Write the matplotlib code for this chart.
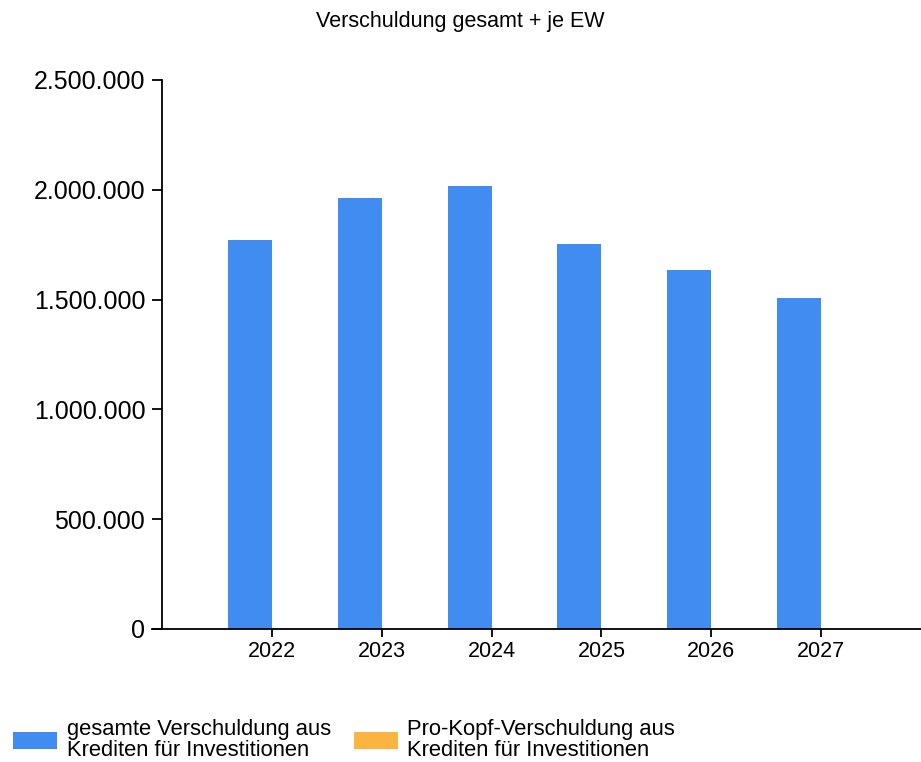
import matplotlib
matplotlib.use("Agg")
import matplotlib.pyplot as plt
from matplotlib.ticker import FuncFormatter
import numpy as np

plt.rcParams['font.family'] = ['Liberation Sans', 'DejaVu Sans']

years = ["2022", "2023", "2024", "2025", "2026", "2027"]
gesamt = [1771000, 1962000, 2017000, 1753000, 1635000, 1508000]
pro_kopf = [880, 975, 1000, 870, 810, 750]  # per capita values, too small to see

blue = '#418CF0'
orange = '#FCB441'


def de_fmt(v, pos):
    return f"{v:,.0f}".replace(",", ".")


fig = plt.figure(figsize=(9.21, 7.62), dpi=100)
ax = fig.add_axes([152 / 921, 133 / 762, 769 / 921, 549 / 762])

x = np.arange(len(years))
w = 0.4
ax.bar(x - w / 2, gesamt, w, color=blue, label="gesamte Verschuldung aus\nKrediten für Investitionen")
ax.bar(x + w / 2, pro_kopf, w, color=orange, label="Pro-Kopf-Verschuldung aus\nKrediten für Investitionen")

ax.set_xlim(-1.093, 5.911)
ax.set_ylim(0, 2500000)
ax.set_yticks(np.arange(0, 2500001, 500000))
ax.yaxis.set_major_formatter(FuncFormatter(de_fmt))
ax.set_xticks(x)
ax.set_xticklabels(years)

for s in ['top', 'right']:
    ax.spines[s].set_visible(False)
ax.spines['left'].set_position(('data', -1.0))
for s in ['left', 'bottom']:
    ax.spines[s].set_linewidth(1.3)
    ax.spines[s].set_color('black')

ax.tick_params(axis='y', length=7.2, width=1.3, pad=5, labelsize=18)
ax.tick_params(axis='x', length=5.8, width=1.3, pad=3, labelsize=15.5)

fig.text(0.5, 1 - 22 / 762, "Verschuldung gesamt + je EW", ha='center', va='center', fontsize=15.5)

leg = fig.legend(loc='lower left', bbox_to_anchor=(4 / 921, -8 / 762), ncol=2, frameon=False,
                 fontsize=15.8, handlelength=2.0, handleheight=0.8, handletextpad=0.45,
                 columnspacing=1.05, borderaxespad=0)
for t in leg.get_texts():
    t.set_linespacing(1.0)

fig.savefig("out.png", dpi=100)
